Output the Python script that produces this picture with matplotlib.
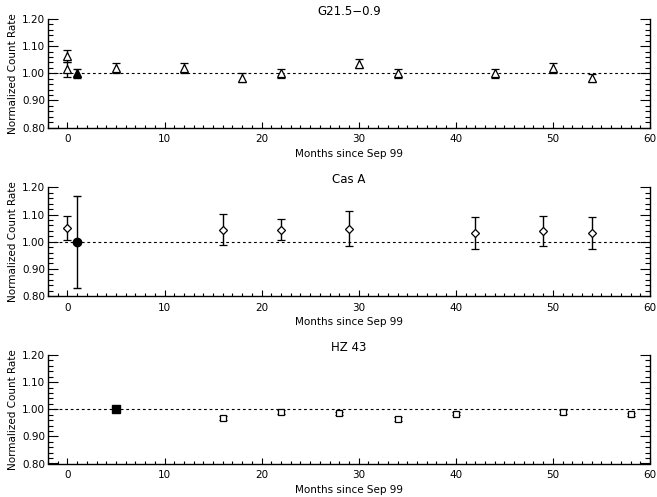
import numpy as np
import matplotlib
matplotlib.use('Agg')
import matplotlib.pyplot as plt
from matplotlib.ticker import MultipleLocator, FormatStrFormatter

# G21.5-0.9 (triangles), reference epoch drawn filled
g21_month = [0, 0, 5, 12, 18, 22, 30, 34, 44, 50, 54]
g21_rate = [1.063, 1.015, 1.020, 1.020, 0.983, 1.000, 1.035, 1.000, 1.000, 1.020, 0.982]
g21_err = [0.022, 0.027, 0.018, 0.018, 0.017, 0.017, 0.016, 0.017, 0.017, 0.018, 0.016]
g21_ref = [1, 1.000, 0.016]

# Cas A (diamonds)
casa_month = [0, 16, 22, 29, 42, 49, 54]
casa_rate = [1.052, 1.045, 1.045, 1.048, 1.032, 1.040, 1.033]
casa_err = [0.044, 0.058, 0.038, 0.065, 0.060, 0.055, 0.058]
casa_ref = [1, 1.000, 0.170]

# HZ 43 (squares)
hz43_month = [16, 22, 28, 34, 40, 51, 58]
hz43_rate = [0.968, 0.990, 0.985, 0.964, 0.984, 0.990, 0.982]
hz43_err = [0.006, 0.006, 0.006, 0.006, 0.006, 0.006, 0.006]
hz43_ref = [5, 1.000, 0.006]

titles = ['G21.5\u22120.9', 'Cas A', 'HZ 43']
xlabel = 'Months since Sep 99'
ylabel = 'Normalized Count Rate'

W, H = 657, 497
fig = plt.figure(figsize=(W / 100, H / 100), dpi=100)

# axes frames in pixels: left, top of 1.20, height
left_px, right_px = 48, 650
tops = [19, 187.5, 355]
hgt = 108.5

panels = [
    (g21_month, g21_rate, g21_err, g21_ref, '^', 5.5, 5.5),
    (casa_month, casa_rate, casa_err, casa_ref, 'D', 3.8, 6.0),
    (hz43_month, hz43_rate, hz43_err, hz43_ref, 's', 5.0, 6.0),
]

for i, (mx, my, me, ref, mk, ms, rs) in enumerate(panels):
    ax = fig.add_axes([left_px / W, 1 - (tops[i] + hgt) / H,
                       (right_px - left_px) / W, hgt / H])
    ax.set_xlim(-2, 60)
    ax.set_ylim(0.8, 1.2)
    ax.axhline(1.0, color='k', lw=0.8, ls=(0, (2.5, 2.5)), zorder=1)

    ax.errorbar(mx, my, yerr=me, fmt=mk, ms=ms, mfc='white', mec='k',
                mew=0.9, ecolor='k', elinewidth=1.0, capsize=2.6,
                capthick=1.0, zorder=3)
    ref_mk = 'o' if mk == 'D' else mk
    ax.errorbar([ref[0]], [ref[1]], yerr=[ref[2]], fmt=ref_mk, ms=rs,
                mfc='k', mec='k', ecolor='k', elinewidth=1.0, capsize=2.6,
                capthick=1.0, zorder=4)

    ax.spines['top'].set_visible(False)
    for s in ['left', 'right', 'bottom']:
        ax.spines[s].set_linewidth(1.0)

    ax.xaxis.set_major_locator(MultipleLocator(10))
    ax.xaxis.set_minor_locator(MultipleLocator(1))
    ax.yaxis.set_major_locator(MultipleLocator(0.1))
    ax.yaxis.set_minor_locator(MultipleLocator(0.02))
    ax.yaxis.set_major_formatter(FormatStrFormatter('%.2f'))

    ax.tick_params(axis='x', which='major', direction='in', length=4,
                   width=0.8, top=False, labelsize=7.5, pad=5)
    ax.tick_params(axis='x', which='minor', direction='in', length=2,
                   width=0.8, top=False)
    ax.tick_params(axis='y', which='major', direction='in', length=7,
                   width=0.8, right=True, labelsize=7.5, pad=2)
    ax.tick_params(axis='y', which='minor', direction='in', length=3.5,
                   width=0.8, right=True)

    ax.set_title(titles[i], fontsize=8.5, pad=3)
    ax.set_xlabel(xlabel, fontsize=7.5, labelpad=3)
    ax.set_ylabel(ylabel, fontsize=7.5, labelpad=3)

fig.savefig('out.png', dpi=100)
